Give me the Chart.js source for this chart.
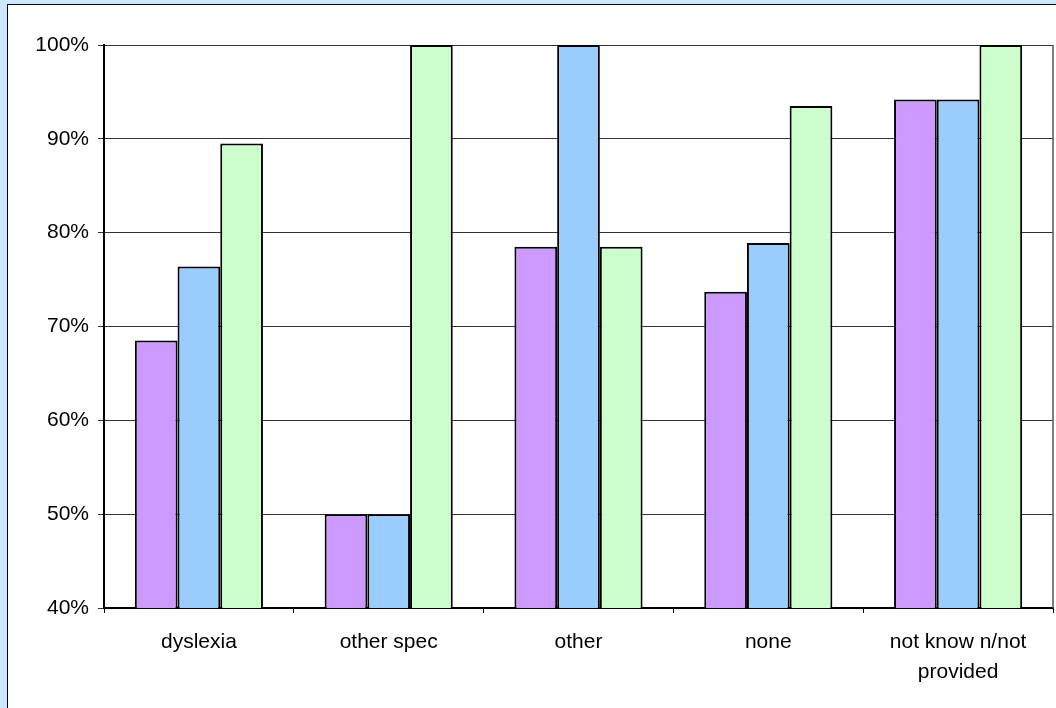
<!DOCTYPE html>
<html>
<head>
<meta charset="utf-8">
<script src="https://cdn.jsdelivr.net/npm/chart.js@4/dist/chart.umd.min.js"></script>
<style>
  html, body { margin: 0; padding: 0; background: #cce8ff; overflow: hidden; }
  #frame {
    position: absolute; left: 7px; top: 4px; width: 1100px; height: 800px;
    background: #ffffff; border: 1px solid #000000;
  }
  #wrap { position: absolute; left: 1px; top: 0px; width: 1048px; height: 704px; }
</style>
</head>
<body>
<div id="frame"><div id="wrap"><canvas id="c"></canvas></div></div>
<script>
// Categories and the three series (percent)
const categories = ['dyslexia', 'other spec', 'other', 'none', ['not know n/not', 'provided']];
const seriesA = [68.5, 50, 78.5, 73.7, 94.2];
const seriesB = [76.4, 50, 100, 78.9, 94.2];
const seriesC = [89.5, 100, 78.5, 93.5, 100];
const yTicks = [40, 50, 60, 70, 80, 90, 100];

const FONT = 'Liberation Sans, Arial, sans-serif';

// Outline on the right side of the plot area
const plotFrame = {
  id: 'plotFrame',
  afterDraw(chart) {
    const { ctx, chartArea: a } = chart;
    ctx.save();
    ctx.strokeStyle = '#555555';
    ctx.lineWidth = 1.5;
    ctx.beginPath();
    ctx.moveTo(a.right, a.top);
    ctx.lineTo(a.right, a.bottom);
    ctx.stroke();
    ctx.restore();
  }
};

const mk = (data, color) => ({
  data, backgroundColor: color, borderColor: '#000000', borderWidth: 2,
  borderSkipped: false, barPercentage: 1, categoryPercentage: 0.675
});

new Chart(document.getElementById('c'), {
  type: 'bar',
  data: {
    labels: categories,
    datasets: [mk(seriesA, '#cc99ff'), mk(seriesB, '#99ccff'), mk(seriesC, '#ccffcc')]
  },
  options: {
    responsive: true,
    maintainAspectRatio: false,
    animation: false,
    layout: { padding: { top: 40, right: 4, left: 0, bottom: 0 } },
    plugins: { legend: { display: false }, tooltip: { enabled: false } },
    scales: {
      x: {
        grid: { display: true, offset: true, drawOnChartArea: false, drawTicks: true,
                tickLength: 5, color: '#000000', lineWidth: 1 },
        border: { display: true, color: '#000000', width: 2 },
        ticks: { color: '#000000', padding: 14,
                 font: { family: FONT, size: 21, lineHeight: 1.43 } },
        afterFit(s) { s.height = 101; }
      },
      y: {
        min: 40, max: 100,
        afterBuildTicks(s) { s.ticks = yTicks.map(v => ({ value: v })); },
        grid: { color: '#333333', lineWidth: 1, drawTicks: true, tickLength: 6 },
        border: { display: true, color: '#000000', width: 2 },
        ticks: { color: '#000000', padding: 9, callback: v => v + '%',
                 font: { family: FONT, size: 21 } },
        afterFit(s) { s.width = 95; }
      }
    }
  },
  plugins: [plotFrame]
});
</script>
</body>
</html>
